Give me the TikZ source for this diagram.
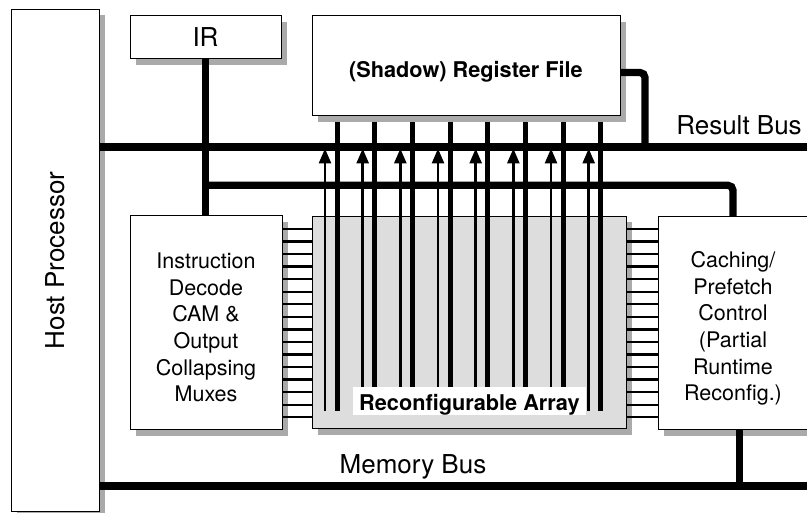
\documentclass[tikz,border=0pt]{standalone}
\usepackage{fontspec}
\setmainfont{TeX Gyre Heros}
\usetikzlibrary{arrows.meta,shadows}
\definecolor{shadowgray}{RGB}{170,170,170}
\definecolor{arraygray}{RGB}{221,221,221}
\newcommand{\boxfont}{\fontsize{21.5}{26.6}\selectfont}
\newcommand{\boldboxfont}{\fontsize{21.7}{26}\selectfont\bfseries}
\newcommand{\busfont}{\fontsize{26}{30}\selectfont}
\begin{document}
\begin{tikzpicture}[x=1pt,y=-1pt,
  box/.style={draw=black, line width=1pt, fill=white, inner sep=0pt,
    drop shadow={shadow xshift=6pt, shadow yshift=-6pt, fill=shadowgray, opacity=1}},
  boxtext/.style={font=\boxfont, align=center, inner sep=0pt},
  bus/.style={line width=7.3pt},
  regline/.style={line width=5pt},
  arrline/.style={line width=2.7pt, -{Triangle[width=12pt,length=15pt]}},
  combline/.style={line width=2.3pt},
  buslabel/.style={font=\busfont, inner sep=0pt, anchor=base}]
\useasboundingbox (0,0) rectangle (807,513);
\clip (0,0) rectangle (807,513);

% boxes
\node[box, minimum width=88pt, minimum height=502pt] (host) at (55,260.4)
  {\rotatebox{90}{\busfont Host Processor}};
\node[box, minimum width=151pt, minimum height=43.3pt, font=\busfont] (ir) at (205.5,37.35) {IR};
\node[box, minimum width=308pt, minimum height=100.3pt, font=\boldboxfont,
  text height=28.9pt, text depth=4.6pt] (reg) at (466,65.85) {(Shadow) Register File};
\node[box, minimum width=152pt, minimum height=214pt] (decode) at (206,323) {};
\node[boxtext] (decodetext) at (206,327.5)
  {Instruction\\Decode\\CAM \&\\Output\\Collapsing\\Muxes};
\node[box, fill=arraygray, minimum width=314pt, minimum height=212.5pt] (array) at (469,322.75) {};
\node[box, minimum width=150pt, minimum height=213pt] (cache) at (733,323.5) {};
\node[boxtext] (cachetext) at (733,328.5)
  {Caching/\\Prefetch\\Control\\(Partial\\Runtime\\Reconfig.)};

% comb connections
\foreach \k in {0,...,15}{
  \draw[combline] (decode.east |- 0,{229+12.55*\k}) -- (array.west |- 0,{229+12.55*\k});
  \draw[combline] (array.east |- 0,{229+12.55*\k}) -- (cache.west |- 0,{229+12.55*\k});
}

% register file lines and arrows
\foreach \k in {0,...,7}{
  \draw[regline] ({337.3+37.67*\k},122.5) -- ({337.3+37.67*\k},411);
  \draw[arrline] ({325+37.67*\k},411) -- ({325+37.67*\k},148.5);
}

% buses
\coordinate (rbend) at (807,147);
\coordinate (mbend) at (807,486);
\draw[bus] (host.east |- rbend) -- (rbend);
\draw[bus] (host.east |- mbend) -- (mbend);
\draw[bus] (ir.south) -- (ir.south |- decode.north);
\draw[bus, rounded corners=5pt] (206,185.3) -- (733,185.3) -- (733,0 |- cache.north);
\draw[bus, rounded corners=5pt] (reg.east |- 0,72.5) -- (645,72.5) -- (645,147);
\draw[bus] (739.5,0 |- cache.south) -- (739.5,486);

% labels
\node[buslabel] (rblabel) at (739,134.5) {Result Bus};
\node[buslabel] (mblabel) at (413,474) {Memory Bus};
\node[fill=white, font=\boldboxfont, anchor=base, inner xsep=6.5pt, inner ysep=0pt,
  text height=24pt, text depth=4pt] (ralabel) at (469.5,411) {Reconfigurable Array};
\end{tikzpicture}
\end{document}
